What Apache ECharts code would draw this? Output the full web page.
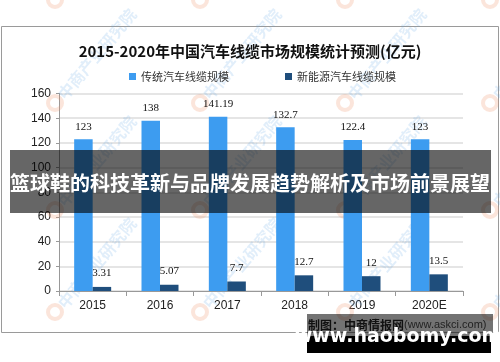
<!DOCTYPE html>
<html>
<head>
<meta charset="utf-8">
<script src="https://cdn.jsdelivr.net/npm/echarts@6/dist/echarts.min.js"></script>
<style>html,body{margin:0;padding:0;background:#fff;}#c{width:500px;height:362px;}</style>
</head>
<body>
<div id="c"></div>
<script>
const categories = ['2015', '2016', '2017', '2018', '2019', '2020E'];
const traditional = [123, 138, 141.19, 132.7, 122.4, 123];
const newEnergy = [3.31, 5.07, 7.7, 12.7, 12, 13.5];
const seriesNames = ['传统汽车线缆规模', '新能源汽车线缆规模'];
const titleText = '2015-2020年中国汽车线缆市场规模统计预测(亿元)';
const bannerText = '篮球鞋的科技革新与品牌发展趋势解析及市场前景展望';
const sourceText = '制图：中商情报网(www.askci.com)';
const siteText = 'www.haobomy.com';
const watermarkText = '中商产业研究院';

const chart = echarts.init(document.getElementById('c'), null, {renderer: 'canvas'});

const wm = [];
const wmX = [55, 200, 345, 490];
const wmY = [0, 103, 210, 312];
wmY.forEach(y => wmX.forEach(x => {
  wm.push({type: 'circle', shape: {cx: x, cy: y, r: 7}, style: {fill: 'none', stroke: 'rgba(240,150,110,0.25)', lineWidth: 4}, z: 1, silent: true});
  wm.push({type: 'text', x: x + 6, y: y - 6, rotation: Math.PI * 50 / 180, style: {text: watermarkText, fill: 'rgba(90,160,225,0.18)', font: 'bold 16px "Noto Sans CJK SC"', align: 'left', verticalAlign: 'middle'}, z: 1, silent: true});
}));

const option = {
  backgroundColor: '#fff',
  animation: false,
  title: {
    text: titleText,
    left: 'center',
    top: 39,
    textStyle: {fontFamily: '"Noto Sans CJK SC"', fontWeight: 'bold', fontSize: 15, color: '#111'}
  },
  legend: {
    data: seriesNames,
    left: 124,
    top: 66,
    itemWidth: 7,
    itemHeight: 7,
    itemGap: 56,
    icon: 'rect',
    textStyle: {fontFamily: '"Noto Sans CJK SC"', fontSize: 11, color: '#333'}
  },
  grid: {left: 59, right: 37, top: 93.5, bottom: 71, containLabel: false},
  xAxis: {
    type: 'category',
    data: categories,
    axisLine: {lineStyle: {color: '#999'}},
    axisTick: {show: true, length: 5, lineStyle: {color: '#999'}},
    axisLabel: {fontFamily: '"Liberation Sans"', fontSize: 12, color: '#222', margin: 9}
  },
  yAxis: {
    type: 'value',
    min: 0,
    max: 160,
    interval: 20,
    axisLine: {show: true, lineStyle: {color: '#999'}},
    axisTick: {show: true, length: 3, lineStyle: {color: '#999'}},
    axisLabel: {fontFamily: '"Liberation Sans"', fontSize: 12, color: '#222', margin: 8},
    splitLine: {lineStyle: {color: '#dcdcdc', width: 1.5}}
  },
  series: [
    {
      name: seriesNames[0], type: 'bar', data: traditional, barWidth: 18.5, barGap: '0%',
      itemStyle: {color: '#3d9cf0'},
      label: {show: true, position: 'top', distance: 7, fontFamily: '"Liberation Serif"', fontSize: 11, color: '#111'}
    },
    {
      name: seriesNames[1], type: 'bar', data: newEnergy, barWidth: 18.5, barGap: '0%',
      itemStyle: {color: '#1f4e7c'},
      label: {show: true, position: 'top', distance: 8, fontFamily: '"Liberation Serif"', fontSize: 11, color: '#111'}
    }
  ],
  graphic: [
    {type: 'rect', shape: {x: 1.5, y: 26.5, width: 497, height: 306}, style: {fill: 'none', stroke: '#9a9a9a', lineWidth: 1}, z: 0, silent: true},
    ...wm,
    {type: 'rect', shape: {x: 10, y: 150, width: 481, height: 63}, style: {fill: 'rgba(0,0,0,0.6)'}, z: 100, silent: true},
    {type: 'text', x: 250, y: 183, style: {text: bannerText, fill: '#fff', font: 'bold 20px "Noto Sans CJK SC"', align: 'center', verticalAlign: 'middle'}, z: 101, silent: true},
    {type: 'rect', shape: {x: 307, y: 314, width: 186, height: 22}, style: {fill: 'rgba(0,0,0,0.55)'}, z: 100, silent: true},
    {type: 'rect', shape: {x: 307, y: 336, width: 184, height: 17}, style: {fill: '#000'}, z: 100, silent: true},
    {type: 'text', x: 308, y: 325, style: {rich: {a: {font: 'bold 12px "Noto Sans CJK SC"', fill: '#111'}, b: {font: '11px "Liberation Sans"', fill: '#222'}}, text: '{a|制图：中商情报网}{b|(www.askci.com)}', align: 'left', verticalAlign: 'middle'}, z: 101, silent: true},
    {type: 'text', x: 398, y: 337, style: {text: siteText, fill: '#fff', font: 'bold 19px "DejaVu Sans"', align: 'center', verticalAlign: 'middle'}, z: 102, silent: true}
  ]
};
chart.setOption(option);
</script>
</body>
</html>
